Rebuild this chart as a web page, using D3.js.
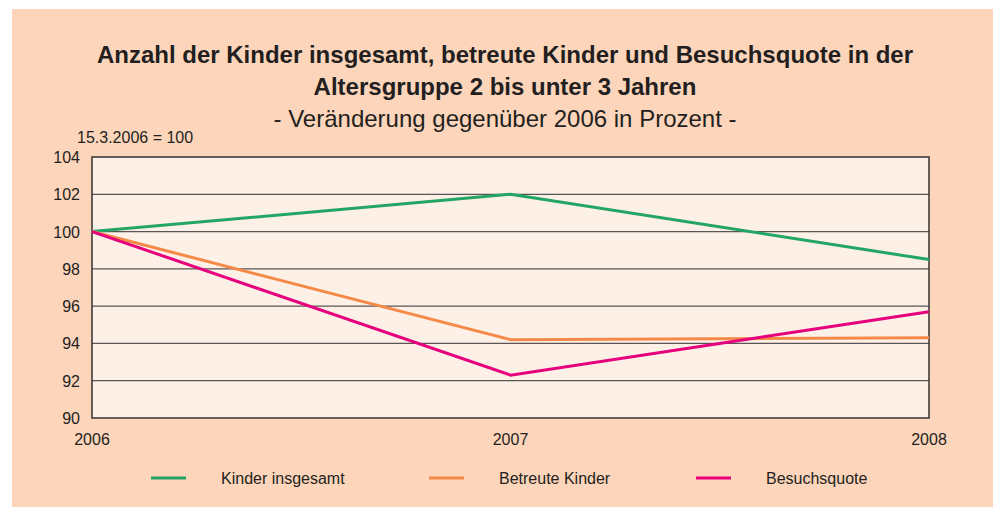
<!DOCTYPE html>
<html>
<head>
<meta charset="utf-8">
<script src="https://d3js.org/d3.v7.min.js"></script>
<style>
body { margin: 0; background: #ffffff; }
svg { display: block; font-family: "Liberation Sans", Arial, sans-serif; }
</style>
</head>
<body>
<svg id="chart" width="994" height="507"></svg>
<script>
// data
var years = [2006, 2007, 2008];
var kinderInsgesamt = [100, 102, 98.5];
var betreuteKinder = [100, 94.2, 94.3];
var besuchsquote = [100, 92.3, 95.7];
var yTicks = [90, 92, 94, 96, 98, 100, 102, 104];
var seriesNames = ["Kinder insgesamt", "Betreute Kinder", "Besuchsquote"];
var seriesColors = ["#22a565", "#f58a48", "#e6007e"];

var svg = d3.select("#chart");

// peach background
svg.append("rect")
  .attr("x", 12).attr("y", 9)
  .attr("width", 981).attr("height", 498)
  .attr("fill", "#fdd5bb");

// titles
svg.append("text")
  .attr("x", 505).attr("y", 63)
  .attr("text-anchor", "middle")
  .attr("font-size", 24).attr("font-weight", "bold")
  .attr("fill", "#231f20")
  .text("Anzahl der Kinder insgesamt, betreute Kinder und Besuchsquote in der");
svg.append("text")
  .attr("x", 505).attr("y", 95)
  .attr("text-anchor", "middle")
  .attr("font-size", 24).attr("font-weight", "bold")
  .attr("fill", "#231f20")
  .text("Altersgruppe 2 bis unter 3 Jahren");
svg.append("text")
  .attr("x", 505).attr("y", 127)
  .attr("text-anchor", "middle")
  .attr("font-size", 24)
  .attr("fill", "#231f20")
  .text("- Veränderung gegenüber 2006 in Prozent -");

svg.append("text")
  .attr("x", 77).attr("y", 143)
  .attr("font-size", 16)
  .attr("fill", "#231f20")
  .text("15.3.2006 = 100");

// scales
var x = d3.scalePoint().domain(years).range([92, 929]);
var y = d3.scaleLinear().domain([90, 104]).range([418, 157]);

// plot area
svg.append("rect")
  .attr("x", 92).attr("y", 157)
  .attr("width", 929 - 92).attr("height", 418 - 157)
  .attr("fill", "#fdf0e7");

// gridlines
svg.append("g")
  .selectAll("line")
  .data(yTicks.slice(1, -1))
  .enter()
  .append("line")
  .attr("x1", 92).attr("x2", 929)
  .attr("y1", function(d) { return y(d); })
  .attr("y2", function(d) { return y(d); })
  .attr("stroke", "#5a5455")
  .attr("stroke-width", 1.3);

// border
svg.append("rect")
  .attr("x", 92).attr("y", 157)
  .attr("width", 929 - 92).attr("height", 418 - 157)
  .attr("fill", "none")
  .attr("stroke", "#333031")
  .attr("stroke-width", 1.5);

// y tick labels
svg.append("g")
  .selectAll("text")
  .data(yTicks)
  .enter()
  .append("text")
  .attr("x", 80)
  .attr("y", function(d) { return y(d) + 6; })
  .attr("text-anchor", "end")
  .attr("font-size", 16)
  .attr("fill", "#231f20")
  .text(function(d) { return d; });

// x tick labels
svg.append("g")
  .selectAll("text")
  .data(years)
  .enter()
  .append("text")
  .attr("x", function(d) { return x(d); })
  .attr("y", 445)
  .attr("text-anchor", "middle")
  .attr("font-size", 16)
  .attr("fill", "#231f20")
  .text(function(d) { return d; });

// lines
var allSeries = [kinderInsgesamt, betreuteKinder, besuchsquote];
var line = d3.line()
  .x(function(d, i) { return x(years[i]); })
  .y(function(d) { return y(d); });

svg.append("g")
  .selectAll("path")
  .data(allSeries)
  .enter()
  .append("path")
  .attr("d", line)
  .attr("fill", "none")
  .attr("stroke", function(d, i) { return seriesColors[i]; })
  .attr("stroke-width", 3)
  .attr("stroke-linejoin", "miter");

// legend
var legendX = [151, 429, 696];
var legend = svg.append("g")
  .selectAll("g")
  .data(seriesNames)
  .enter()
  .append("g")
  .attr("transform", function(d, i) { return "translate(" + legendX[i] + ",478)"; });

legend.append("line")
  .attr("x1", 0).attr("x2", 35)
  .attr("y1", 0).attr("y2", 0)
  .attr("stroke", function(d, i) { return seriesColors[i]; })
  .attr("stroke-width", 3);

legend.append("text")
  .attr("x", 70).attr("y", 6)
  .attr("font-size", 16)
  .attr("fill", "#231f20")
  .text(function(d) { return d; });
</script>
</body>
</html>
